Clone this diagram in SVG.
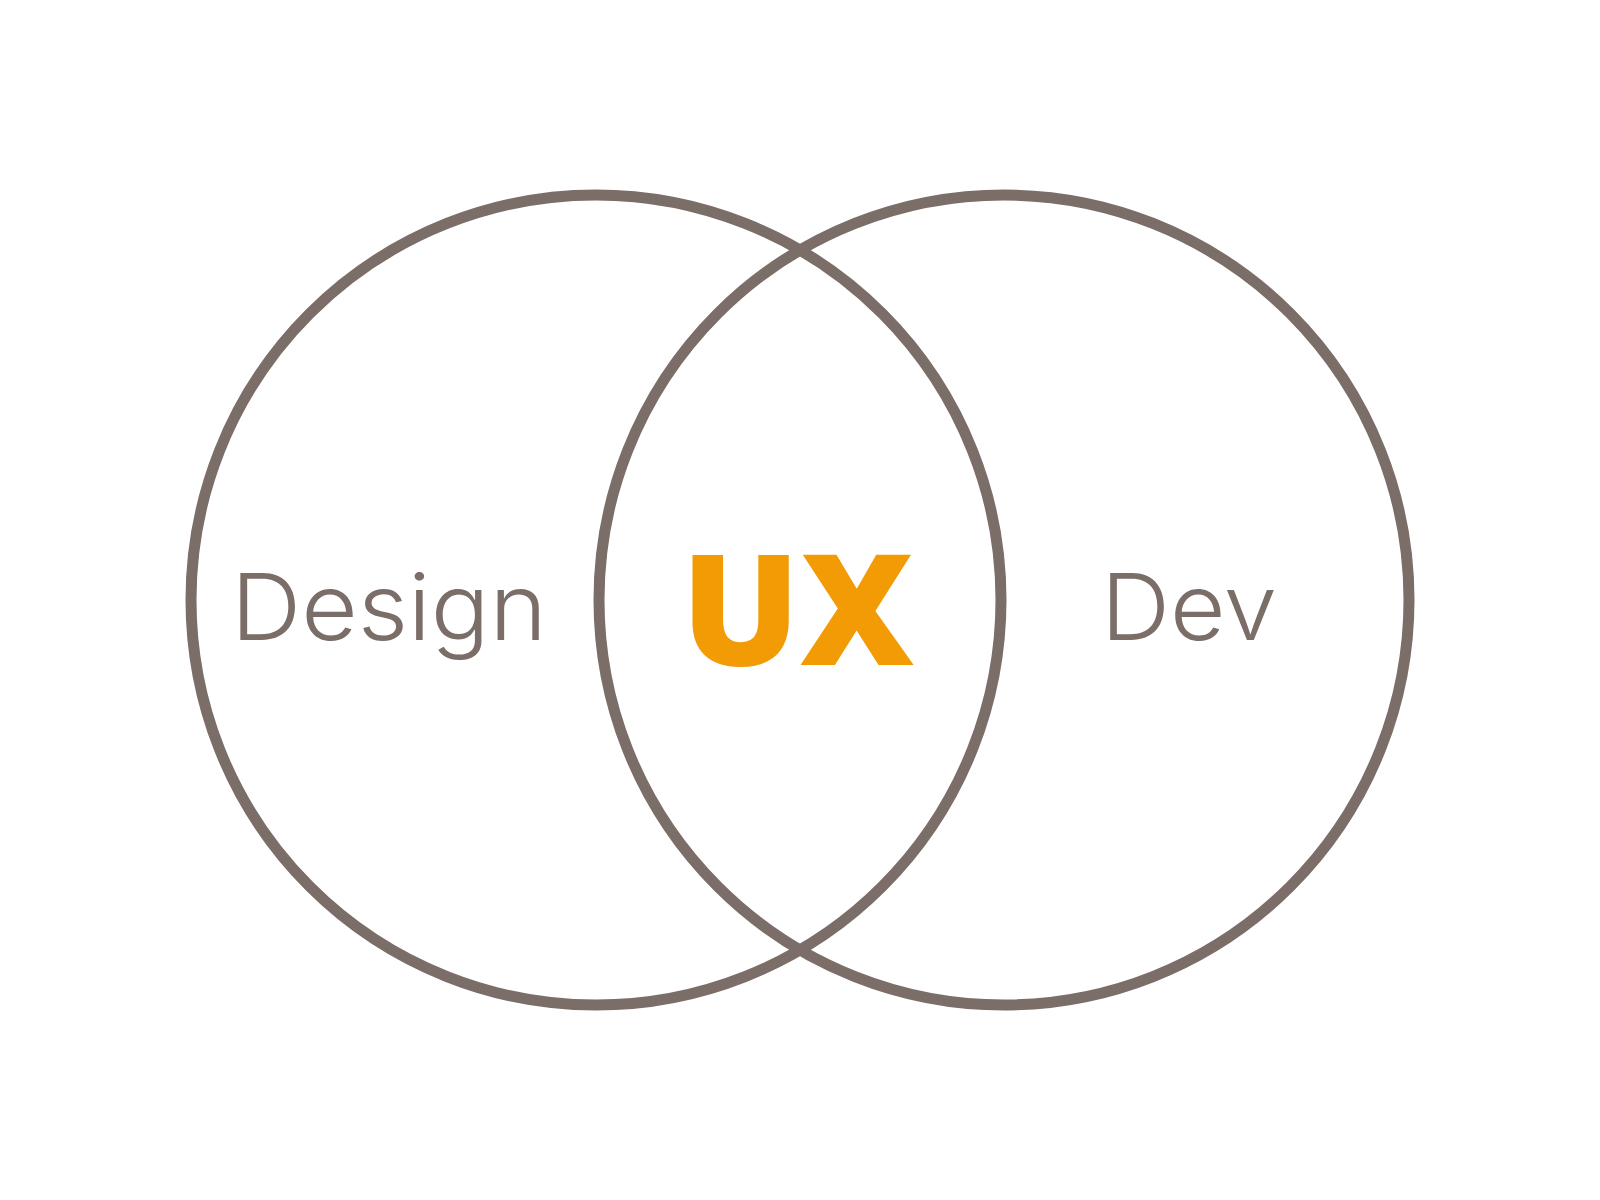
<svg xmlns="http://www.w3.org/2000/svg" width="1600" height="1200" viewBox="0 0 1600 1200">
<style>
.ring{fill:none;stroke:#7b6d67;stroke-width:11}
.lbl{font-family:Inter,Roboto,"Liberation Sans",sans-serif;font-weight:300;font-size:92px;fill:#7b6d67}
.ux{font-family:"Open Sans","Liberation Sans",sans-serif;font-weight:800;font-size:154px;fill:#f29b05}
</style>
<rect width="1600" height="1200" fill="#ffffff"/>
<g id="design">
<circle class="ring" cx="596" cy="600" r="405"/>
<text class="lbl" x="231" y="640" textLength="316" lengthAdjust="spacingAndGlyphs">Design</text>
</g>
<g id="dev">
<circle class="ring" cx="1004" cy="600" r="405"/>
<text class="lbl" x="1101" y="640" textLength="176" lengthAdjust="spacingAndGlyphs">Dev</text>
</g>
<g id="ux">
<text class="ux" x="681" y="665" textLength="233" lengthAdjust="spacingAndGlyphs">UX</text>
</g>
<g id="connectors"></g>
</svg>
